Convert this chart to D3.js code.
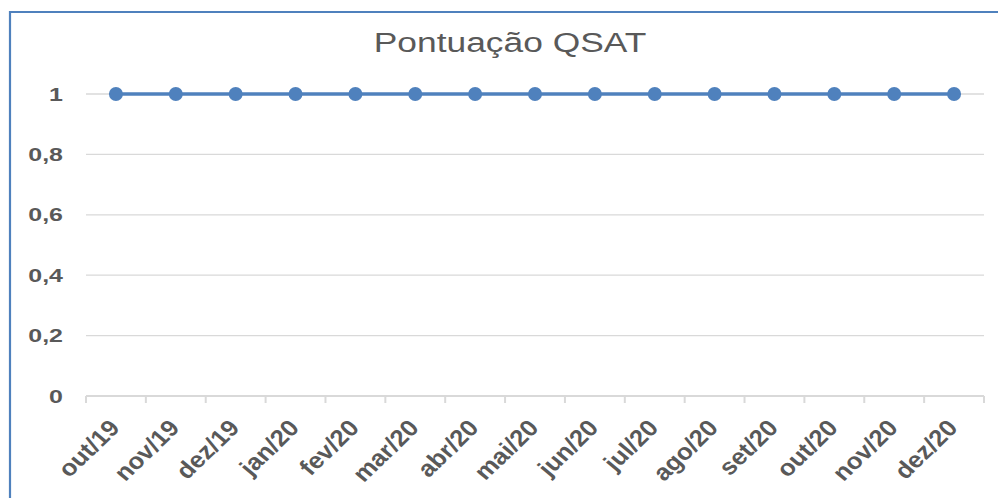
<!DOCTYPE html>
<html><head><meta charset="utf-8">
<script src="https://cdn.jsdelivr.net/npm/d3@7"></script>
<style>html,body{margin:0;padding:0;background:#fff;overflow:hidden;} svg{display:block;font-family:"Liberation Sans",Arial,sans-serif;}</style>
</head><body><svg id="c" width="998" height="498"></svg>
<script>
const categories = ["out/19","nov/19","dez/19","jan/20","fev/20","mar/20","abr/20","mai/20","jun/20","jul/20","ago/20","set/20","out/20","nov/20","dez/20"];
const values = [1,1,1,1,1,1,1,1,1,1,1,1,1,1,1];
const yTicks = [0,0.2,0.4,0.6,0.8,1];
const chartTitle = "Pontuação QSAT";

const svg = d3.select("#c");
const blue = "#4f81bd", grey = "#595959", grid = "#d9d9d9";
const x = d3.scaleBand().domain(categories).range([86, 984]);
const y = d3.scaleLinear().domain([0, 1]).range([396, 94]);
const fmt = d3.formatLocale({decimal: ",", thousands: ".", grouping: [3], currency: ["R$", ""]}).format("~g");

// frame border
svg.append("path").attr("d", "M10,498 L10,12 L998,12")
  .attr("fill", "none").attr("stroke", blue).attr("stroke-width", 2.2);

// title
svg.append("text").text(chartTitle)
  .attr("transform", "translate(510,52) scale(1.31,1)")
  .attr("text-anchor", "middle").attr("font-size", 27).attr("fill", grey);

// gridlines
svg.append("g").selectAll("line").data(yTicks.filter(d => d !== 0)).join("line")
  .attr("x1", x.range()[0]).attr("x2", x.range()[1])
  .attr("y1", d => y(d)).attr("y2", d => y(d))
  .attr("stroke", grid).attr("stroke-width", 1.3);

// x axis line + ticks
svg.append("line").attr("x1", x.range()[0]).attr("x2", x.range()[1])
  .attr("y1", y(0)).attr("y2", y(0)).attr("stroke", grid).attr("stroke-width", 2);
const tickPos = categories.map(c => x(c)).concat([x.range()[1]]);
svg.append("g").selectAll("line").data(tickPos).join("line")
  .attr("x1", d => d).attr("x2", d => d).attr("y1", y(0)).attr("y2", y(0) + 7)
  .attr("stroke", grid).attr("stroke-width", 2);

// y labels
svg.append("g").selectAll("text").data(yTicks).join("text")
  .text(d => fmt(d))
  .attr("transform", d => `translate(63,${y(d) + 6.6}) scale(1.35,1)`)
  .attr("text-anchor", "end").attr("font-size", 18.5).attr("font-weight", "bold").attr("fill", grey);

// x labels
svg.append("g").selectAll("text").data(categories).join("text")
  .text(d => d)
  .attr("transform", d => `translate(${x(d) + x.bandwidth() / 2 + 5},${y(0) + 33}) scale(1.12,1) rotate(-47)`)
  .attr("text-anchor", "end").attr("font-size", 23).attr("font-weight", "bold").attr("fill", grey);

// line + markers
const cx = d => x(d) + x.bandwidth() / 2;
svg.append("path").datum(categories.map((c, i) => [cx(c), y(values[i])]))
  .attr("d", d3.line()).attr("fill", "none").attr("stroke", blue).attr("stroke-width", 3.5);
svg.append("g").selectAll("circle").data(categories).join("circle")
  .attr("cx", d => cx(d)).attr("cy", (d, i) => y(values[i])).attr("r", 7).attr("fill", blue);
</script></body></html>
